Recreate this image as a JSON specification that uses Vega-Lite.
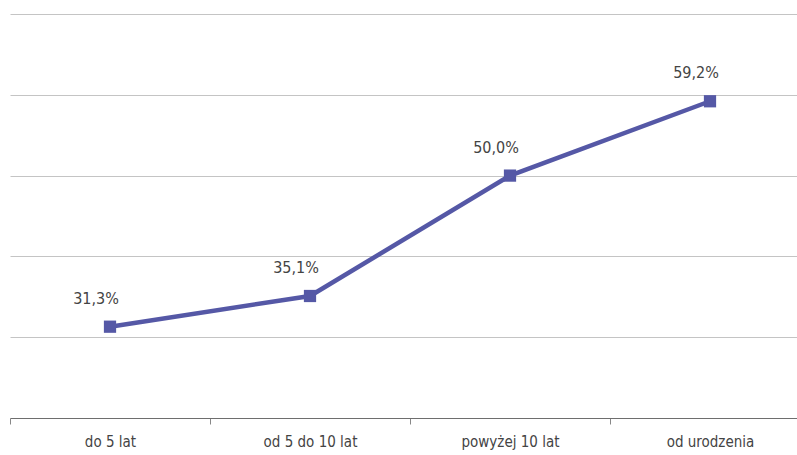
{
  "$schema": "https://vega.github.io/schema/vega-lite/v6.json",
  "autosize": "none",
  "width": 800,
  "height": 404,
  "padding": {"left": 10, "top": 14, "right": 0, "bottom": 37},
  "background": "white",
  "config": {"view": {"stroke": null}, "font": "DejaVu Sans Condensed, Roboto, sans-serif"},
  "data": {"values": [
    {"cat": "do 5 lat", "value": 31.3, "label": "31,3%"},
    {"cat": "od 5 do 10 lat", "value": 35.1, "label": "35,1%"},
    {"cat": "powyżej 10 lat", "value": 50.0, "label": "50,0%"},
    {"cat": "od urodzenia", "value": 59.2, "label": "59,2%"}
  ]},
  "encoding": {
    "x": {"field": "cat", "type": "nominal", "sort": null, "title": null,
      "scale": {"paddingInner": 0, "paddingOuter": 0},
      "axis": {"labelAngle": 0, "labelFontSize": 15, "labelColor": "#444444", "labelPadding": 10,
        "domainColor": "#6e6e6e", "domainWidth": 1.2, "tickColor": "#888888", "tickSize": 6, "tickBand": "extent",
        "labelFont": "DejaVu Sans Condensed, Roboto, sans-serif"}},
    "y": {"field": "value", "type": "quantitative", "title": null,
      "scale": {"domain": [20, 70], "nice": false, "zero": false},
      "axis": {"values": [30, 40, 50, 60, 70], "labels": false, "ticks": false, "domain": false,
        "gridColor": "#c4c4c4", "gridWidth": 1}}
  },
  "layer": [
    {"mark": {"type": "line", "color": "#5558a6", "strokeWidth": 4.5}},
    {"mark": {"type": "square", "color": "#5558a6", "size": 150, "opacity": 1, "filled": true}},
    {"mark": {"type": "text", "dx": -14, "dy": -28, "fontSize": 16, "color": "#444444", "font": "DejaVu Sans Condensed, Roboto, sans-serif"},
      "encoding": {"text": {"field": "label"}}}
  ]
}
